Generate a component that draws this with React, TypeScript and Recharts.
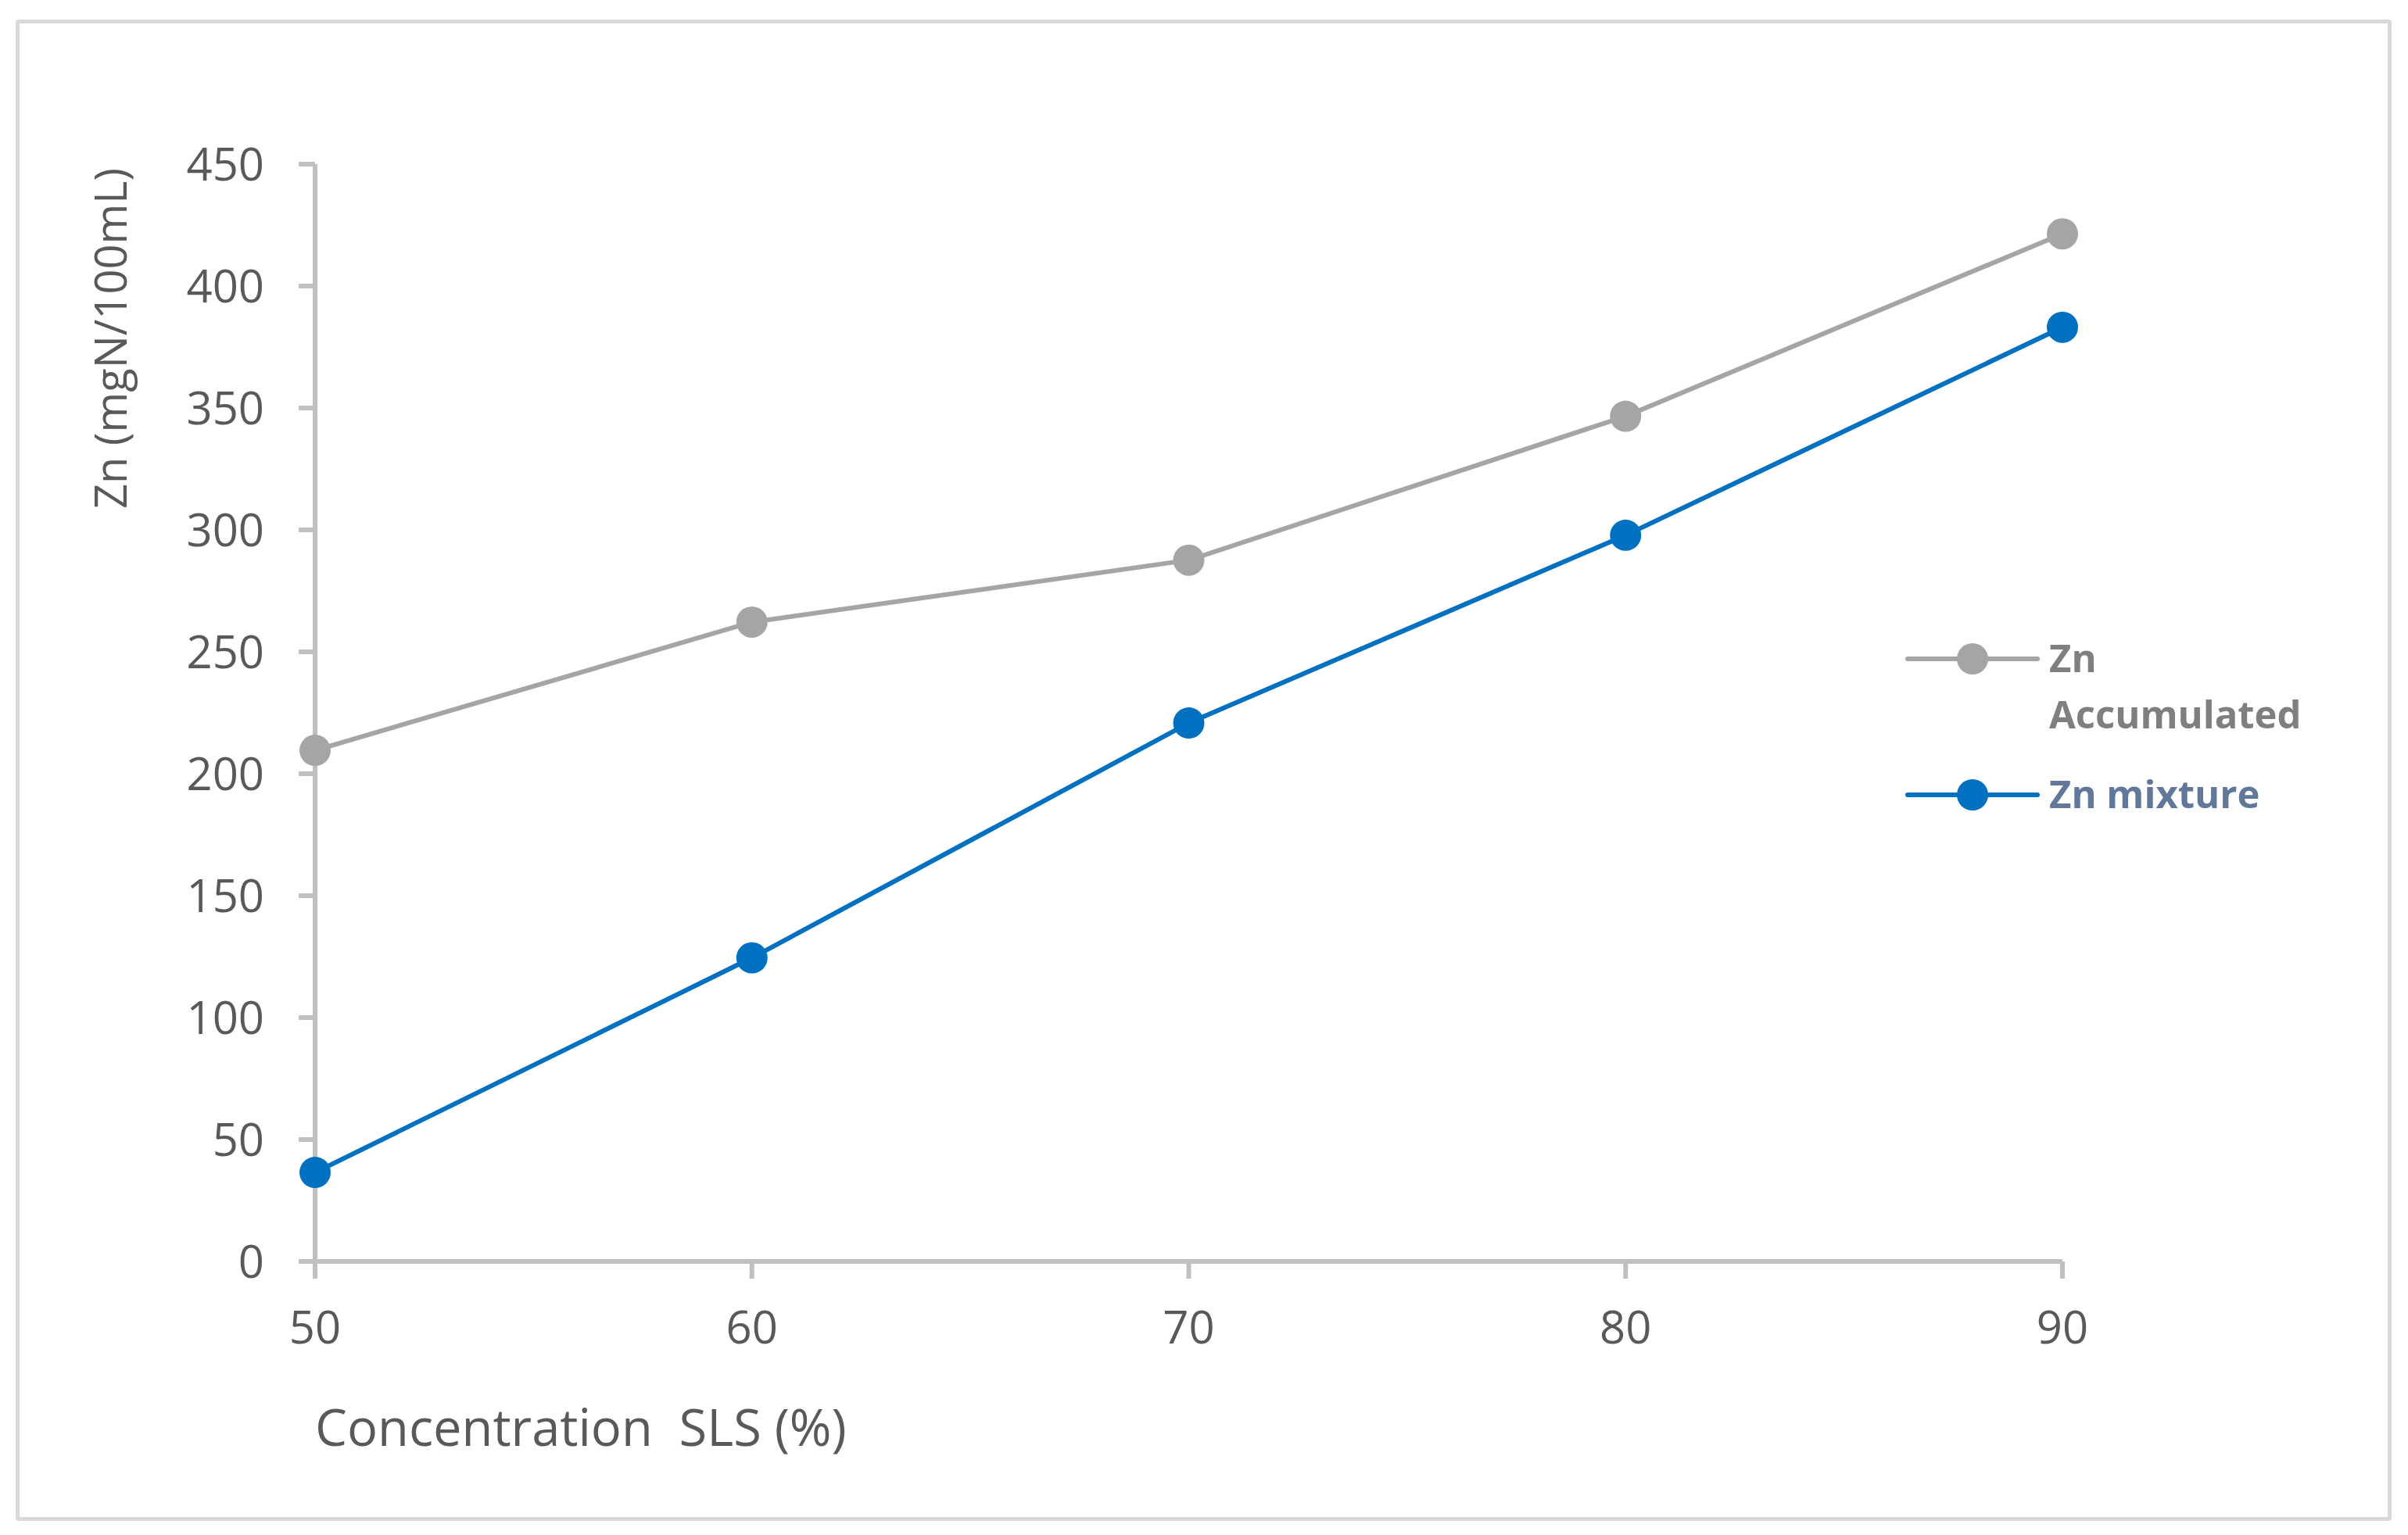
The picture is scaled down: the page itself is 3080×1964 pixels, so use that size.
import React from "react";
import { LineChart, Line, XAxis, YAxis, Legend } from "recharts";

const concentrations = [50, 60, 70, 80, 90];
const znAccumulated = [209.6, 262.2, 287.6, 346.6, 421.4];
const znMixture = [36.5, 124.5, 220.8, 297.8, 383.1];
const xTicks = [50, 60, 70, 80, 90];
const yTicks = [0, 50, 100, 150, 200, 250, 300, 350, 400, 450];

const seriesNames = { acc: "Zn Accumulated", mix: "Zn mixture" };
const seriesColors = { acc: "#a5a5a5", mix: "#0070c0" };
const legendTextColors: Record<string, string> = { acc: "#7f7f7f", mix: "#61789a" };

const data = concentrations.map((c, i) => ({
  x: c,
  acc: znAccumulated[i],
  mix: znMixture[i],
}));

const FONT = "'Open Sans', 'Noto Sans', sans-serif";
const AXIS_COLOR = "#bfbfbf";
const TEXT_COLOR = "#595959";

const XLabel = (props: any) => {
  const vb = props.viewBox || {};
  return (
    <text
      x={vb.x}
      y={vb.y + 236}
      fontFamily={FONT}
      fontSize={65}
      fill={TEXT_COLOR}
      textAnchor="start"
      style={{ whiteSpace: "pre" }}
    >
      {"Concentration  SLS (%)"}
    </text>
  );
};

const YLabel = (props: any) => {
  const vb = props.viewBox || {};
  const x = vb.x + vb.width - 241;
  const y = vb.y + 223;
  return (
    <text
      x={x}
      y={y}
      transform={`rotate(-90 ${x} ${y})`}
      fontFamily={FONT}
      fontSize={56}
      fill={TEXT_COLOR}
      textAnchor="middle"
    >
      Zn (mgN/100mL)
    </text>
  );
};

const renderLegend = (props: any) => {
  const payload = props.payload || [];
  const rowTops = [63, 237];
  return (
    <svg width={640} height={300} style={{ display: "block" }}>
      {payload.map((entry: any, i: number) => {
        const key = entry.dataKey as string;
        const cy = rowTops[i];
        const value: string = entry.value;
        const lines = value.length > 12 ? value.split(" ") : [value];
        return (
          <g key={key}>
            <line
              x1={40}
              x2={206}
              y1={cy}
              y2={cy}
              stroke={entry.color}
              strokeWidth={6}
              strokeLinecap="round"
            />
            <circle cx={123} cy={cy} r={20} fill={entry.color} />
            <text
              x={221}
              y={cy + 17}
              fontFamily={FONT}
              fontWeight={700}
              fontSize={49}
              fill={legendTextColors[key]}
            >
              {lines.map((ln, j) => (
                <tspan key={j} x={221} dy={j === 0 ? 0 : 72}>
                  {ln}
                </tspan>
              ))}
            </text>
          </g>
        );
      })}
    </svg>
  );
};

export default function App() {
  return (
    <div
      style={{
        position: "absolute",
        left: 0,
        top: 0,
        width: 3080,
        height: 1964,
        background: "#ffffff",
      }}
    >
      <div
        style={{
          position: "absolute",
          left: 20,
          top: 25,
          width: 3039,
          height: 1921,
          boxSizing: "border-box",
          border: "5px solid #d9d9d9",
          borderRadius: 4,
        }}
      />
      <div style={{ position: "absolute", left: 0, top: 0 }}>
        <LineChart
          width={3080}
          height={1964}
          data={data}
          margin={{ top: 210, right: 442, bottom: 50, left: 23 }}
        >
          <XAxis
            dataKey="x"
            type="number"
            domain={[50, 90]}
            ticks={xTicks}
            interval={0}
            height={300}
            axisLine={{ stroke: AXIS_COLOR, strokeWidth: 6 }}
            tickLine={{ stroke: AXIS_COLOR, strokeWidth: 6 }}
            tickSize={22}
            tickMargin={42}
            tick={{ fontFamily: FONT, fontSize: 58, fill: TEXT_COLOR }}
            label={<XLabel />}
          />
          <YAxis
            type="number"
            domain={[0, 450]}
            ticks={yTicks}
            interval={0}
            width={380}
            axisLine={{ stroke: AXIS_COLOR, strokeWidth: 6 }}
            tickLine={{ stroke: AXIS_COLOR, strokeWidth: 6 }}
            tickSize={21}
            tickMargin={44}
            tick={{ fontFamily: FONT, fontSize: 58, fill: TEXT_COLOR }}
            label={<YLabel />}
          />
          <Legend
            layout="horizontal"
            verticalAlign="middle"
            align="center"
            content={renderLegend}
            wrapperStyle={{ left: 2400, top: 780, width: 640, height: 300 }}
          />
          <Line
            type="linear"
            dataKey="acc"
            name={seriesNames.acc}
            stroke={seriesColors.acc}
            strokeWidth={6}
            dot={{ r: 20, fill: seriesColors.acc, stroke: seriesColors.acc, strokeWidth: 0 }}
            activeDot={false}
            isAnimationActive={false}
          />
          <Line
            type="linear"
            dataKey="mix"
            name={seriesNames.mix}
            stroke={seriesColors.mix}
            strokeWidth={6}
            dot={{ r: 20, fill: seriesColors.mix, stroke: seriesColors.mix, strokeWidth: 0 }}
            activeDot={false}
            isAnimationActive={false}
          />
        </LineChart>
      </div>
    </div>
  );
}
